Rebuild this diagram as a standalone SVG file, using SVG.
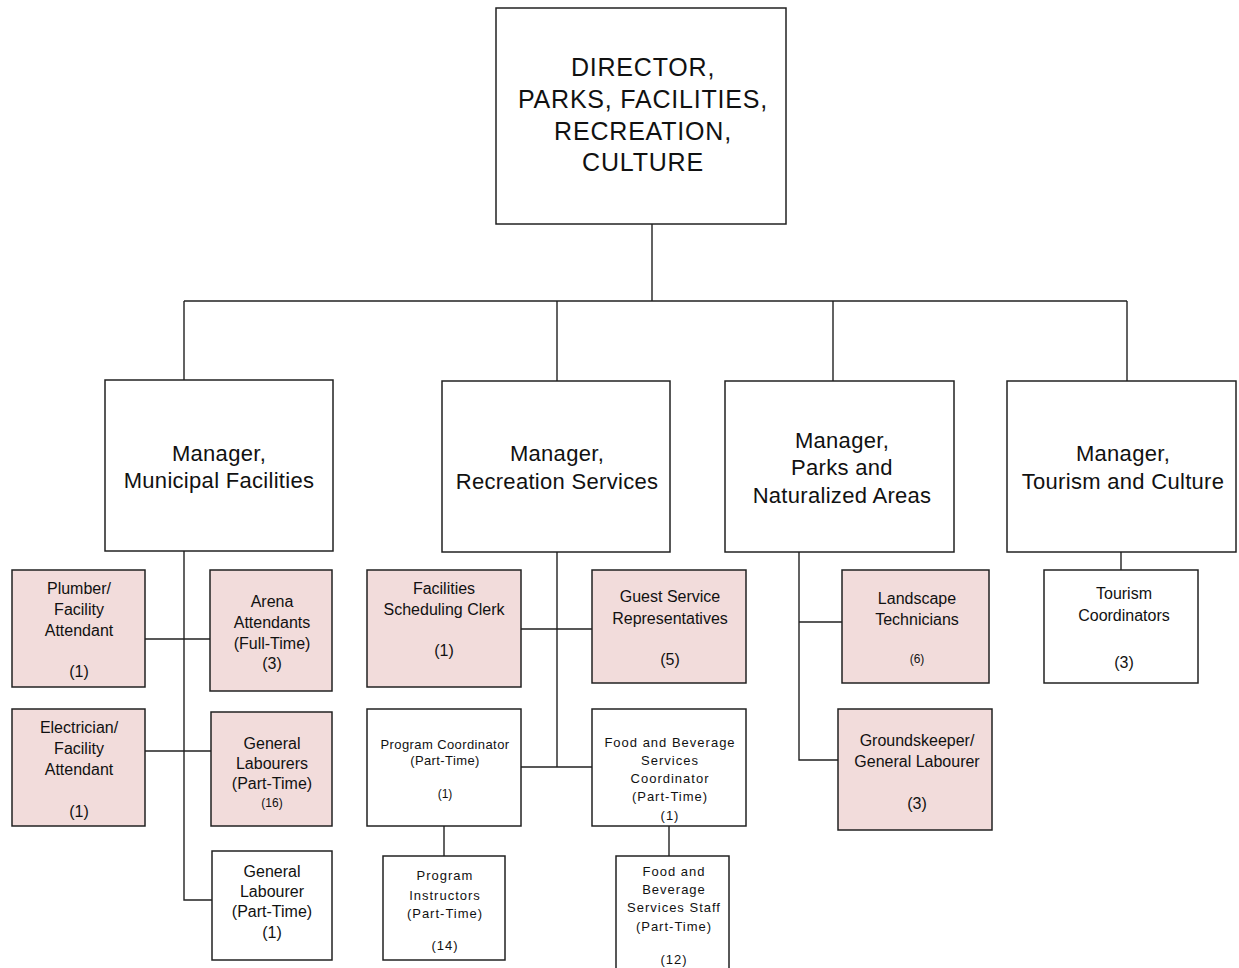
<svg xmlns="http://www.w3.org/2000/svg" width="1239" height="968" viewBox="0 0 1239 968">
<style>
.box{fill:#fff;stroke:#222;stroke-width:1.5}
.pink{fill:#F2DCDB;stroke:#222;stroke-width:1.5}
.ln{fill:none;stroke:#222;stroke-width:1.4}
text{font-family:"Liberation Sans",Arial,sans-serif;fill:#111;text-anchor:middle}
.t25{font-size:25px;letter-spacing:0.8px}
.t22{font-size:22px;letter-spacing:0.3px}
.t16{font-size:16px}
.t13{font-size:13px;letter-spacing:0.4px}
.t13w{font-size:13px;letter-spacing:1px}
.t12{font-size:12px}
</style>
<rect width="1239" height="968" fill="#fff"/>
<g id="connectors">
<path class="ln" d="M652 224V301M184 301H1127M184 301V380M557 301V381M833 301V381M1127 301V381"/>
<path class="ln" d="M184 551V900H212M145 639H210M145 751H211"/>
<path class="ln" d="M557 552V767M521 629H592M521 767H592M444 826V856M669 826V856"/>
<path class="ln" d="M799 552V760H838M799 622H842"/>
<path class="ln" d="M1121 552V570"/>
</g>
<g id="director">
<rect class="box" x="496" y="8" width="290" height="216"/>
<text class="t25" x="643" y="76">DIRECTOR,</text>
<text class="t25" x="643" y="108">PARKS, FACILITIES,</text>
<text class="t25" x="643" y="140">RECREATION,</text>
<text class="t25" x="643" y="171">CULTURE</text>
</g>
<g id="mgr-municipal">
<rect class="box" x="105" y="380" width="228" height="171"/>
<text class="t22" x="219" y="461">Manager,</text>
<text class="t22" x="219" y="488">Municipal Facilities</text>
</g>
<g id="mgr-recreation">
<rect class="box" x="442" y="381" width="228" height="171"/>
<text class="t22" x="557" y="461">Manager,</text>
<text class="t22" x="557" y="489">Recreation Services</text>
</g>
<g id="mgr-parks">
<rect class="box" x="725" y="381" width="229" height="171"/>
<text class="t22" x="842" y="448">Manager,</text>
<text class="t22" x="842" y="475">Parks and</text>
<text class="t22" x="842" y="503">Naturalized Areas</text>
</g>
<g id="mgr-tourism">
<rect class="box" x="1007" y="381" width="229" height="171"/>
<text class="t22" x="1123" y="461">Manager,</text>
<text class="t22" x="1123" y="489">Tourism and Culture</text>
</g>
<g id="plumber">
<rect class="pink" x="12" y="570" width="133" height="117"/>
<text class="t16" x="79" y="594">Plumber/</text>
<text class="t16" x="79" y="615">Facility</text>
<text class="t16" x="79" y="636">Attendant</text>
<text class="t16" x="79" y="677">(1)</text>
</g>
<g id="arena">
<rect class="pink" x="210" y="570" width="122" height="121"/>
<text class="t16" x="272" y="607">Arena</text>
<text class="t16" x="272" y="628">Attendants</text>
<text class="t16" x="272" y="649">(Full-Time)</text>
<text class="t16" x="272" y="669">(3)</text>
</g>
<g id="electrician">
<rect class="pink" x="12" y="709" width="133" height="117"/>
<text class="t16" x="79" y="733">Electrician/</text>
<text class="t16" x="79" y="754">Facility</text>
<text class="t16" x="79" y="775">Attendant</text>
<text class="t16" x="79" y="817">(1)</text>
</g>
<g id="general-labourers">
<rect class="pink" x="211" y="712" width="121" height="114"/>
<text class="t16" x="272" y="749">General</text>
<text class="t16" x="272" y="769">Labourers</text>
<text class="t16" x="272" y="789">(Part-Time)</text>
<text class="t12" x="272" y="807">(16)</text>
</g>
<g id="general-labourer">
<rect class="box" x="212" y="851" width="120" height="109"/>
<text class="t16" x="272" y="877">General</text>
<text class="t16" x="272" y="897">Labourer</text>
<text class="t16" x="272" y="917">(Part-Time)</text>
<text class="t16" x="272" y="938">(1)</text>
</g>
<g id="scheduling-clerk">
<rect class="pink" x="367" y="570" width="154" height="117"/>
<text class="t16" x="444" y="594">Facilities</text>
<text class="t16" x="444" y="615">Scheduling Clerk</text>
<text class="t16" x="444" y="656">(1)</text>
</g>
<g id="guest-service">
<rect class="pink" x="592" y="570" width="154" height="113"/>
<text class="t16" x="670" y="602">Guest Service</text>
<text class="t16" x="670" y="624">Representatives</text>
<text class="t16" x="670" y="665">(5)</text>
</g>
<g id="program-coordinator">
<rect class="box" x="367" y="709" width="154" height="117"/>
<text class="t13" x="445" y="749">Program Coordinator</text>
<text class="t13" x="445" y="765">(Part-Time)</text>
<text class="t12" x="445" y="798">(1)</text>
</g>
<g id="fb-coordinator">
<rect class="box" x="592" y="709" width="154" height="117"/>
<text class="t13w" x="670" y="747">Food and Beverage</text>
<text class="t13w" x="670" y="765">Services</text>
<text class="t13w" x="670" y="783">Coordinator</text>
<text class="t13w" x="670" y="801">(Part-Time)</text>
<text class="t13w" x="670" y="820">(1)</text>
</g>
<g id="program-instructors">
<rect class="box" x="383" y="856" width="122" height="104"/>
<text class="t13w" x="445" y="880">Program</text>
<text class="t13w" x="445" y="900">Instructors</text>
<text class="t13w" x="445" y="918">(Part-Time)</text>
<text class="t13w" x="445" y="950">(14)</text>
</g>
<g id="fb-staff">
<rect class="box" x="616" y="856" width="113" height="114"/>
<text class="t13w" x="674" y="876">Food and</text>
<text class="t13w" x="674" y="894">Beverage</text>
<text class="t13w" x="674" y="912">Services Staff</text>
<text class="t13w" x="674" y="931">(Part-Time)</text>
<text class="t13w" x="674" y="964">(12)</text>
</g>
<g id="landscape">
<rect class="pink" x="842" y="570" width="147" height="113"/>
<text class="t16" x="917" y="604">Landscape</text>
<text class="t16" x="917" y="625">Technicians</text>
<text class="t12" x="917" y="663">(6)</text>
</g>
<g id="groundskeeper">
<rect class="pink" x="838" y="709" width="154" height="121"/>
<text class="t16" x="917" y="746">Groundskeeper/</text>
<text class="t16" x="917" y="767">General Labourer</text>
<text class="t16" x="917" y="809">(3)</text>
</g>
<g id="tourism-coordinators">
<rect class="box" x="1044" y="570" width="154" height="113"/>
<text class="t16" x="1124" y="599">Tourism</text>
<text class="t16" x="1124" y="621">Coordinators</text>
<text class="t16" x="1124" y="668">(3)</text>
</g>
</svg>
